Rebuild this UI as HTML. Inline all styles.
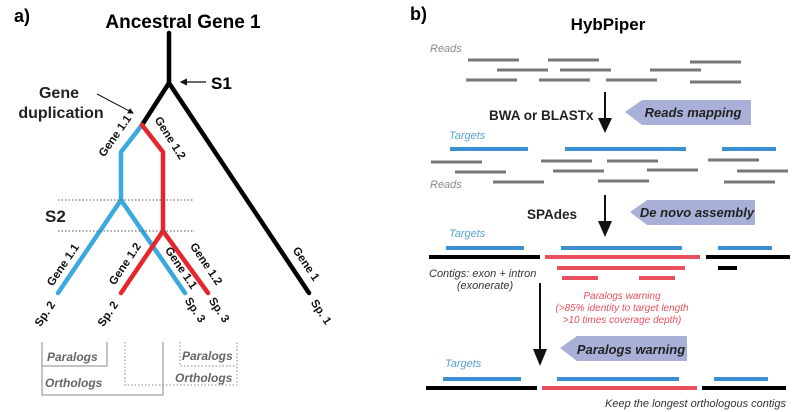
<!DOCTYPE html>
<html><head><meta charset="utf-8"><style>
body{margin:0;background:#fff}
svg{display:block;font-family:"Liberation Sans",Arial,sans-serif}
.b{font-weight:bold}
.lab{font-weight:bold;font-size:11.5px;fill:#111}
.it{font-style:italic}
</style></head><body>
<svg width="800" height="412" viewBox="0 0 800 412">
<defs>
<marker id="ah" markerWidth="8" markerHeight="8" refX="7" refY="4" orient="auto" markerUnits="strokeWidth"><path d="M0,0 L8,4 L0,8 z" fill="#111"/></marker>
<marker id="ahs" markerWidth="6" markerHeight="6" refX="5" refY="3" orient="auto"><path d="M0,0 L6,3 L0,6 z" fill="#111"/></marker>
</defs>
<g>
<text x="14" y="22" font-size="18" class="b">a)</text>
<text x="183" y="28" font-size="19" class="b" text-anchor="middle">Ancestral Gene 1</text>
<g fill="none" stroke-width="4.5" stroke-linecap="round" stroke-linejoin="round">
<polyline points="169,33 169,83 309,293" stroke="#000"/>
<polyline points="169,83 142,125" stroke="#000"/>
<polyline points="142,125 121,152 121,200 58,293" stroke="#3aa9dd"/>
<polyline points="121,200 185,293" stroke="#3aa9dd"/>
<polyline points="142,125 163,152 163,231 121,293" stroke="#e5262d"/>
<polyline points="163,231 208,293" stroke="#e5262d"/>
</g>
<line x1="58" y1="200" x2="193" y2="200" stroke="#555" stroke-dasharray="1.5,2"/>
<line x1="58" y1="231" x2="195" y2="231" stroke="#555" stroke-dasharray="1.5,2"/>
<line x1="206" y1="82" x2="181" y2="82" stroke="#111" stroke-width="1.2" marker-end="url(#ahs)"/>
<text x="211" y="89" font-size="17" class="b">S1</text>
<text x="59" y="98" font-size="16" class="b" text-anchor="middle" fill="#222">Gene</text>
<text x="61" y="118" font-size="16" class="b" text-anchor="middle" fill="#222">duplication</text>
<line x1="97" y1="94" x2="133" y2="113" stroke="#111" stroke-width="1" marker-end="url(#ahs)"/>
<text x="45" y="222" font-size="17" class="b" fill="#222">S2</text>
<text class="lab" text-anchor="middle" transform="translate(118,138) rotate(-55)">Gene 1.1</text>
<text class="lab" text-anchor="middle" transform="translate(167,140) rotate(58)">Gene 1.2</text>
<text class="lab" text-anchor="middle" transform="translate(66,267) rotate(-56)">Gene 1.1</text>
<text class="lab" text-anchor="middle" transform="translate(128,266) rotate(-56)">Gene 1.2</text>
<text class="lab" text-anchor="middle" transform="translate(178,270) rotate(56)">Gene 1.1</text>
<text class="lab" text-anchor="middle" transform="translate(203,266) rotate(56)">Gene 1.2</text>
<text class="lab" text-anchor="middle" transform="translate(303,266) rotate(56)">Gene 1</text>
<text class="lab" text-anchor="middle" transform="translate(48,316) rotate(-56)">Sp. 2</text>
<text class="lab" text-anchor="middle" transform="translate(111,316) rotate(-56)">Sp. 2</text>
<text class="lab" text-anchor="middle" transform="translate(192,312) rotate(56)">Sp. 3</text>
<text class="lab" text-anchor="middle" transform="translate(216,312) rotate(56)">Sp. 3</text>
<text class="lab" text-anchor="middle" transform="translate(318,314) rotate(56)">Sp. 1</text>
<g fill="none" stroke="#888" stroke-width="1">
<polyline points="42,342 42,395 163,395 163,342"/>
<polyline points="42,366 107,366 107,342"/>
<polyline points="125,342 125,385 237,385 237,342" stroke-dasharray="1.5,2"/>
<polyline points="180,342 180,366 237,366" stroke-dasharray="1.5,2"/>
</g>
<g font-size="12" class="it b" fill="#666">
<text x="47" y="361">Paralogs</text>
<text x="45" y="387">Orthologs</text>
<text x="182" y="360">Paralogs</text>
<text x="175" y="382">Orthologs</text>
</g>
</g>
<g>
<text x="410" y="20" font-size="18" class="b">b)</text>
<text x="608" y="30" font-size="17" class="b" text-anchor="middle">HybPiper</text>
<g font-size="11" class="it">
<text x="430" y="52" fill="#888">Reads</text>
<text x="449" y="139" fill="#5aa0d8">Targets</text>
<text x="430" y="188" fill="#888">Reads</text>
<text x="449" y="237" fill="#5aa0d8">Targets</text>
<text x="445" y="367" fill="#5aa0d8">Targets</text>
<text x="429" y="277" fill="#333">Contigs: exon + intron</text>
<text x="485" y="289" fill="#333" text-anchor="middle">(exonerate)</text>
<g fill="#e8505e" font-size="10" text-anchor="middle">
<text x="622" y="299">Paralogs warning</text>
<text x="622" y="311">(&gt;85% identity to target length</text>
<text x="622" y="323">&gt;10 times coverage depth)</text>
</g>
<text x="786" y="407" fill="#333" text-anchor="end">Keep the longest orthologous contigs</text>
</g>
<g stroke="#777" stroke-width="3">
<line x1="468" y1="60" x2="519" y2="60"/><line x1="548" y1="60" x2="599" y2="60"/><line x1="690" y1="62" x2="741" y2="62"/>
<line x1="497" y1="70" x2="548" y2="70"/><line x1="560" y1="70" x2="611" y2="70"/><line x1="650" y1="70" x2="701" y2="70"/>
<line x1="466" y1="80" x2="517" y2="80"/><line x1="539" y1="80" x2="590" y2="80"/><line x1="606" y1="80" x2="657" y2="80"/><line x1="690" y1="82" x2="741" y2="82"/>
</g>
<g stroke="#777" stroke-width="3">
<line x1="431" y1="162" x2="482" y2="162"/><line x1="541" y1="161" x2="592" y2="161"/><line x1="607" y1="161" x2="658" y2="161"/><line x1="708" y1="160" x2="759" y2="160"/>
<line x1="455" y1="172" x2="506" y2="172"/><line x1="553" y1="171" x2="604" y2="171"/><line x1="647" y1="170" x2="698" y2="170"/><line x1="737" y1="171" x2="788" y2="171"/>
<line x1="493" y1="182" x2="544" y2="182"/><line x1="598" y1="181" x2="649" y2="181"/><line x1="724" y1="182" x2="775" y2="182"/>
</g>
<g stroke="#3a8fd0" stroke-width="4">
<line x1="450" y1="149" x2="528" y2="149"/><line x1="565" y1="149" x2="686" y2="149"/><line x1="722" y1="149" x2="776" y2="149"/>
<line x1="446" y1="248" x2="524" y2="248"/><line x1="561" y1="248" x2="682" y2="248"/><line x1="718" y1="248" x2="772" y2="248"/>
<line x1="443" y1="379" x2="521" y2="379"/><line x1="557" y1="379" x2="679" y2="379"/><line x1="714" y1="379" x2="768" y2="379"/>
</g>
<g stroke-width="4">
<line x1="429" y1="257" x2="540" y2="257" stroke="#000"/><line x1="545" y1="257" x2="700" y2="257" stroke="#e8505e"/><line x1="706" y1="257" x2="790" y2="257" stroke="#000"/>
<line x1="557" y1="268" x2="685" y2="268" stroke="#e8505e"/><line x1="718" y1="268" x2="737" y2="268" stroke="#000"/>
<line x1="562" y1="278" x2="598" y2="278" stroke="#e8505e"/><line x1="639" y1="278" x2="675" y2="278" stroke="#e8505e"/>
<line x1="426" y1="388" x2="537" y2="388" stroke="#000"/><line x1="542" y1="388" x2="697" y2="388" stroke="#e8505e"/><line x1="702" y1="388" x2="786" y2="388" stroke="#000"/>
</g>
<g stroke="#111" stroke-width="2" fill="#111">
<line x1="605" y1="92" x2="605" y2="122"/>
<polygon points="598,118 612,118 605,133" stroke="none"/>
<line x1="605" y1="195" x2="605" y2="225"/>
<polygon points="598,221 612,221 605,237" stroke="none"/>
<line x1="540" y1="283" x2="540" y2="352"/>
<polygon points="533,349 547,349 540,366" stroke="none"/>
</g>
<text x="489" y="120" font-size="13.5" class="b" fill="#222">BWA or BLASTx</text>
<text x="527" y="219" font-size="13.5" class="b" fill="#222">SPAdes</text>
<g>
<polygon points="625,112 642,100 751,100 751,125 642,125" fill="#a9b0d8"/>
<text x="693" y="117" font-size="13" class="b it" text-anchor="middle" fill="#222">Reads mapping</text>
</g>
<g>
<polygon points="630,212 647,200 755,200 755,225 647,225" fill="#a9b0d8"/>
<text x="697" y="217" font-size="13" class="b it" text-anchor="middle" fill="#222">De novo assembly</text>
</g>
<g>
<polygon points="560,348 577,336 687,336 687,361 577,361" fill="#a9b0d8"/>
<text x="631" y="354" font-size="13" class="b it" text-anchor="middle" fill="#222">Paralogs warning</text>
</g>
</g>
</svg>
</body></html>
